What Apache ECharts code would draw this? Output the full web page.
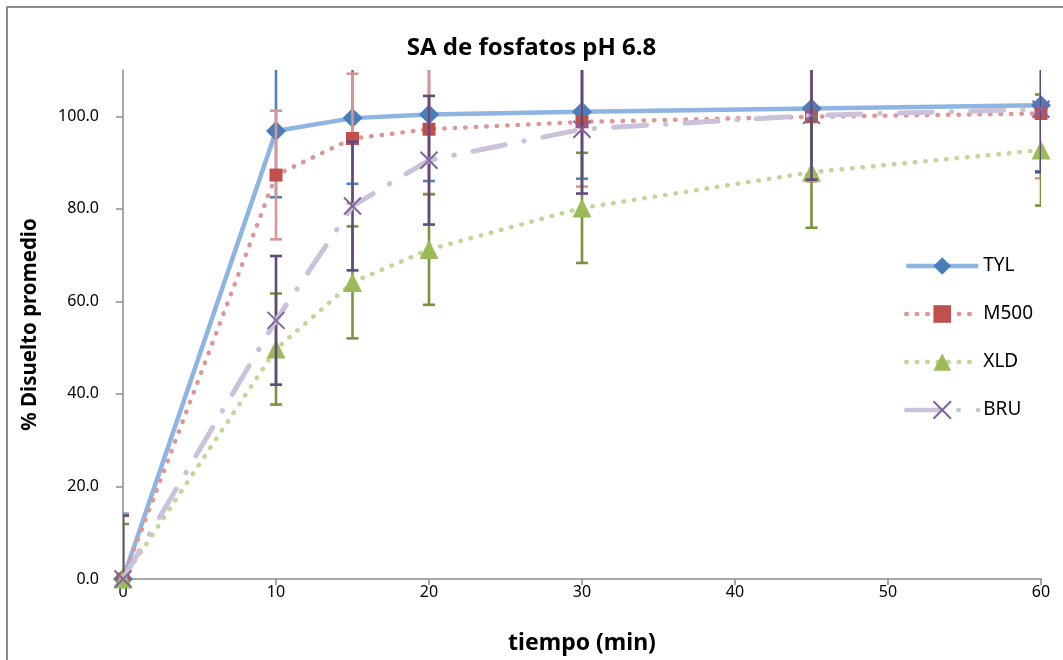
<!DOCTYPE html>
<html>
<head>
<meta charset="utf-8">
<script src="https://cdn.jsdelivr.net/npm/echarts@6/dist/echarts.min.js"></script>
<style>
html,body{margin:0;padding:0;background:#fff;}
#chart{width:1063px;height:660px;}
</style>
</head>
<body>
<div id="chart"></div>
<script>
// ---- data ----
var times = [0, 10, 15, 20, 30, 45, 60];
var seriesNames = ['TYL', 'M500', 'XLD', 'BRU'];
var TYL = [0, 96.8, 99.6, 100.4, 101.0, 101.7, 102.4];
var M500 = [0, 87.3, 95.2, 97.2, 98.8, 99.9, 100.6];
var XLD = [0, 49.7, 64.1, 71.2, 80.2, 87.9, 92.7];
var BRU = [0, 55.9, 80.6, 90.5, 97.2, 100.2, 101.5];
var TYL_err = [14.1, 14.3, 14.2, 14.4, 14.5, 14.3, 14.3];
var M500_err = [13.9, 13.9, 14.0, 14.0, 14.0, 14.0, 14.0];
var XLD_err = [11.9, 12.0, 12.1, 11.95, 11.9, 12.0, 12.0];
var BRU_err = [13.7, 13.9, 13.9, 13.9, 13.9, 13.9, 13.6];
var yTicks = [0, 20, 40, 60, 80, 100];

var FONT = 'Noto Sans';

function pts(vals) { return times.map(function (t, i) { return [t, vals[i]]; }); }
function errPts(vals, errs) { return times.map(function (t, i) { return [t, vals[i], errs[i]]; }); }

function errSeries(vals, errs, color, z) {
  return {
    type: 'custom',
    z: z,
    clip: true,
    silent: true,
    data: errPts(vals, errs),
    encode: { x: 0, y: 1 },
    renderItem: function (params, api) {
      var x = api.value(0), y = api.value(1), e = api.value(2);
      var hi = api.coord([x, y + e]);
      var lo = api.coord([x, y - e]);
      var hw = 6;
      var st = { stroke: color, lineWidth: 2.6 };
      return {
        type: 'group',
        children: [
          { type: 'line', shape: { x1: hi[0], y1: hi[1], x2: lo[0], y2: lo[1] }, style: st },
          { type: 'line', shape: { x1: hi[0] - hw, y1: hi[1], x2: hi[0] + hw, y2: hi[1] }, style: st },
          { type: 'line', shape: { x1: lo[0] - hw, y1: lo[1], x2: lo[0] + hw, y2: lo[1] }, style: st }
        ]
      };
    }
  };
}

var chart = echarts.init(document.getElementById('chart'), null, { renderer: 'canvas' });

var option = {
  backgroundColor: '#ffffff',
  animation: false,
  textStyle: { fontFamily: FONT },
  title: {
    text: 'SA de fosfatos pH 6.8',
    left: 'center',
    top: 31,
    textStyle: { fontFamily: FONT, fontWeight: 'bold', fontSize: 24, color: '#000' }
  },
  graphic: [{
    type: 'rect',
    shape: { x: 7, y: 7, width: 1100, height: 700 },
    style: { fill: 'none', stroke: '#8c8c8c', lineWidth: 2 },
    silent: true
  }],
  legend: {
    data: seriesNames,
    orient: 'vertical',
    left: 899,
    top: 250,
    itemWidth: 72,
    itemHeight: 22,
    itemGap: 26,
    lineStyle: { width: 4.5 },
    textStyle: { fontFamily: FONT, fontSize: 19, color: '#000', lineHeight: 22 }
  },
  grid: { left: 123, right: 22, top: 70, bottom: 81, containLabel: false },
  xAxis: {
    type: 'value',
    min: 0, max: 60, interval: 10,
    name: 'tiempo (min)',
    nameLocation: 'middle',
    nameGap: 53,
    nameTextStyle: { fontFamily: FONT, fontWeight: 'bold', fontSize: 23, color: '#000' },
    axisLine: { show: true, onZero: false, lineStyle: { color: '#8c8c8c', width: 1.5 } },
    axisTick: { show: true, inside: false, length: 6, lineStyle: { color: '#8c8c8c', width: 1.5 } },
    axisLabel: { margin: 5, fontFamily: FONT, fontSize: 16, color: '#000' },
    splitLine: { show: false }
  },
  yAxis: {
    type: 'value',
    min: 0, max: 110, interval: 20,
    name: '% Disuelto promedio',
    nameLocation: 'middle',
    nameRotate: 90,
    nameGap: 82,
    nameTextStyle: { fontFamily: FONT, fontWeight: 'bold', fontSize: 20.5, color: '#000' },
    axisLine: { show: true, lineStyle: { color: '#8c8c8c', width: 1.5 } },
    axisTick: { show: true, inside: false, length: 7, customValues: yTicks, lineStyle: { color: '#8c8c8c', width: 1.5 } },
    axisLabel: {
      margin: 24, fontFamily: FONT, fontSize: 16, color: '#000',
      customValues: yTicks,
      formatter: function (v) { return v.toFixed(1); }
    },
    splitLine: { show: false }
  },
  series: [
    errSeries(TYL, TYL_err, '#4F81BD', 2),
    {
      name: 'TYL', type: 'line', z: 3, data: pts(TYL),
      symbol: 'diamond', symbolSize: 20,
      lineStyle: { color: '#8DB4E2', width: 4.5 },
      itemStyle: { color: '#4A7EBB' }
    },
    errSeries(M500, M500_err, '#DA9694', 4),
    {
      name: 'M500', type: 'line', z: 5, data: pts(M500),
      symbol: 'rect', symbolSize: 13,
      lineStyle: { color: '#DD9896', width: 4.5, type: [0.5, 10], cap: 'round' },
      itemStyle: { color: '#C0504D' }
    },
    errSeries(XLD, XLD_err, '#77933C', 6),
    {
      name: 'XLD', type: 'line', z: 7, data: pts(XLD),
      symbol: 'triangle', symbolSize: [19, 19],
      lineStyle: { color: '#C2D69A', width: 4.5, type: [0.5, 10], cap: 'round' },
      itemStyle: { color: '#9BBB59' }
    },
    errSeries(BRU, BRU_err, '#604A7B', 8),
    {
      name: 'BRU', type: 'line', z: 9, data: pts(BRU),
      symbol: 'path://M0,0L10,10M10,0L0,10', symbolSize: 17,
      lineStyle: { color: '#CCC1DA', width: 5, type: [33, 19, 0.5, 19], cap: 'round' },
      itemStyle: { color: 'rgba(0,0,0,0)', borderColor: '#8064A2', borderWidth: 2 }
    }
  ]
};
chart.setOption(option);
</script>
</body>
</html>
